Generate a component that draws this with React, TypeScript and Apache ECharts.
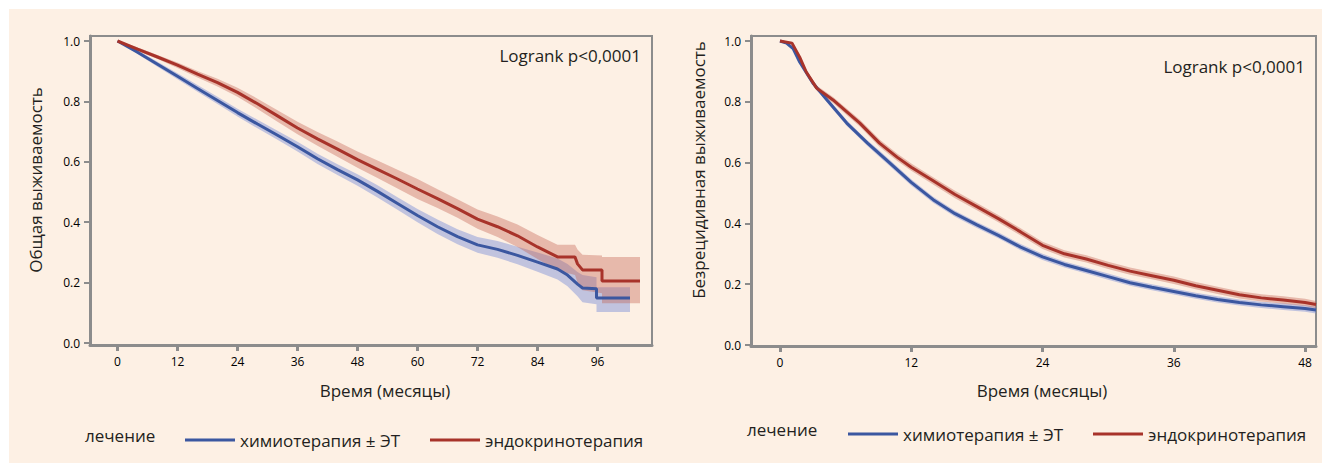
import React, { useEffect, useRef } from "react";
import * as echarts from "echarts";

// ---------- data ----------
const CHEMO = "химиотерапия ± ЭТ";
const ENDO = "эндокринотерапия";
const LEGEND_TITLE = "лечение";
const X_TITLE = "Время (месяцы)";
const Y_TITLE_OS = "Общая выживаемость";
const Y_TITLE_DFS = "Безрецидивная выживаемость";
const LOGRANK = "Logrank p<0,0001";

const osTicksX = [0, 12, 24, 36, 48, 60, 72, 84, 96];
const dfsTicksX = [0, 12, 24, 36, 48];
const ticksY = [0, 0.2, 0.4, 0.6, 0.8, 1.0];

// Overall survival — chemo (blue)
const osChemoT = [0, 4, 8, 12, 16, 20, 24, 28, 32, 36, 40, 44, 48, 52, 56, 60, 64, 68, 72, 76, 80, 84, 88, 90, 92, 93, 95.8, 95.8, 102.5];
const osChemoS = [1.0, 0.963, 0.923, 0.883, 0.843, 0.803, 0.763, 0.725, 0.688, 0.65, 0.61, 0.574, 0.54, 0.502, 0.462, 0.422, 0.385, 0.352, 0.325, 0.31, 0.29, 0.268, 0.245, 0.225, 0.195, 0.182, 0.18, 0.149, 0.149];
const osChemoLo = [1.0, 0.957, 0.915, 0.873, 0.832, 0.791, 0.75, 0.711, 0.673, 0.634, 0.593, 0.556, 0.521, 0.482, 0.441, 0.4, 0.361, 0.327, 0.299, 0.282, 0.261, 0.236, 0.21, 0.188, 0.155, 0.135, 0.128, 0.103, 0.103];
const osChemoHi = [1.0, 0.969, 0.931, 0.893, 0.854, 0.815, 0.776, 0.739, 0.703, 0.666, 0.627, 0.592, 0.559, 0.522, 0.483, 0.444, 0.409, 0.377, 0.351, 0.338, 0.319, 0.3, 0.28, 0.262, 0.235, 0.225, 0.218, 0.185, 0.185];

// Overall survival — endocrine (red)
const osEndoT = [0, 4, 8, 12, 16, 20, 24, 28, 32, 36, 40, 44, 48, 52, 56, 60, 64, 68, 72, 76, 80, 84, 88, 91.5, 92, 93, 96.9, 96.9, 104.5];
const osEndoS = [1.0, 0.973, 0.947, 0.92, 0.89, 0.862, 0.83, 0.792, 0.752, 0.712, 0.676, 0.642, 0.607, 0.575, 0.543, 0.51, 0.478, 0.445, 0.41, 0.385, 0.355, 0.318, 0.285, 0.285, 0.262, 0.242, 0.242, 0.205, 0.205];
const osEndoLo = [1.0, 0.967, 0.94, 0.911, 0.879, 0.849, 0.815, 0.775, 0.733, 0.691, 0.653, 0.617, 0.58, 0.546, 0.512, 0.477, 0.447, 0.415, 0.378, 0.351, 0.318, 0.278, 0.24, 0.225, 0.2, 0.175, 0.165, 0.132, 0.132];
const osEndoHi = [1.0, 0.979, 0.954, 0.929, 0.901, 0.875, 0.845, 0.809, 0.771, 0.733, 0.699, 0.667, 0.634, 0.604, 0.574, 0.543, 0.509, 0.476, 0.442, 0.419, 0.392, 0.358, 0.325, 0.325, 0.31, 0.292, 0.29, 0.285, 0.285];

// Disease-free survival — chemo (blue)
const dfsChemoT = [0, 0.6, 1.2, 1.8, 3.0, 4.3, 6.1, 8.0, 9.0, 10, 12, 14, 16, 18, 20, 22, 24, 26, 28, 30, 32, 34, 36, 38, 40, 42, 44, 46, 48, 49];
const dfsChemoS = [1.0, 0.993, 0.975, 0.931, 0.862, 0.806, 0.73, 0.664, 0.632, 0.6, 0.535, 0.478, 0.432, 0.395, 0.36, 0.322, 0.29, 0.265, 0.245, 0.225, 0.205, 0.19, 0.176, 0.162, 0.15, 0.14, 0.132, 0.126, 0.12, 0.115];
const dfsChemoCI = [0, 0.003, 0.005, 0.006, 0.007, 0.008, 0.009, 0.009, 0.01, 0.01, 0.01, 0.01, 0.01, 0.01, 0.01, 0.01, 0.01, 0.01, 0.01, 0.01, 0.01, 0.01, 0.01, 0.01, 0.01, 0.01, 0.01, 0.011, 0.011, 0.011];

// Disease-free survival — endocrine (red)
const dfsEndoT = [0, 1.1, 1.8, 2.4, 3.35, 4.85, 7.3, 9.1, 10.7, 12, 14, 16, 18, 20, 22, 24, 26, 28, 30, 32, 34, 36, 38, 40, 42, 44, 46, 48, 49];
const dfsEndoS = [1.0, 0.993, 0.947, 0.898, 0.845, 0.806, 0.73, 0.664, 0.618, 0.585, 0.54, 0.495, 0.455, 0.415, 0.372, 0.328, 0.3, 0.283, 0.262, 0.243, 0.228, 0.213, 0.195, 0.18, 0.165, 0.155, 0.148, 0.14, 0.133];
const dfsEndoCI = [0, 0.004, 0.006, 0.008, 0.009, 0.01, 0.011, 0.012, 0.012, 0.012, 0.012, 0.012, 0.012, 0.012, 0.012, 0.012, 0.012, 0.012, 0.012, 0.012, 0.012, 0.012, 0.012, 0.012, 0.012, 0.012, 0.012, 0.012, 0.012];

// ---------- styles ----------
const FONT = "Open Sans";
const BG = "#fdf0e4";
const AXIS = "#8c8c8c";
const TEXT = "#231f20";
const BLUE = "#3b57a0";
const RED = "#a8332a";
const BLUE_BAND = "rgba(120, 140, 215, 0.45)";
const RED_BAND = "rgba(195, 95, 80, 0.38)";

function pairs(t: number[], v: number[]) {
  return t.map((x, i) => [x, v[i]]);
}

function band(name: string, idx: number, t: number[], lo: number[], hi: number[], color: string) {
  return {
    type: "custom",
    name,
    xAxisIndex: idx,
    yAxisIndex: idx,
    silent: true,
    z: 1,
    data: t.map((x, i) => [x, lo[i], hi[i]]),
    encode: { x: 0, y: [1, 2] },
    renderItem: (params: any, api: any) => {
      if (params.dataIndex !== 0) return null;
      const up = t.map((x, i) => api.coord([x, hi[i]]));
      const dn = t.map((x, i) => api.coord([x, lo[i]])).reverse();
      return {
        type: "polygon",
        shape: { points: up.concat(dn) },
        style: { fill: color },
        silent: true,
      };
    },
  };
}

function line(name: string, idx: number, t: number[], v: number[], color: string) {
  return {
    type: "line",
    name,
    xAxisIndex: idx,
    yAxisIndex: idx,
    data: pairs(t, v),
    showSymbol: false,
    symbol: "none",
    lineStyle: { color, width: 3 },
    itemStyle: { color },
    z: 3,
  };
}

function xAxis(idx: number, min: number, max: number, ticks: number[]) {
  return {
    type: "value",
    gridIndex: idx,
    min,
    max,
    axisLine: { show: true, onZero: false, lineStyle: { color: AXIS, width: 3 } },
    axisTick: { show: true, customValues: ticks, length: 6, lineStyle: { color: AXIS, width: 3 } },
    axisLabel: { customValues: ticks, color: "#000", fontSize: 12, fontFamily: FONT, margin: 10 },
    splitLine: { show: false },
  };
}

function yAxis(idx: number, min: number, max: number) {
  return {
    type: "value",
    gridIndex: idx,
    min,
    max,
    axisLine: { show: true, onZero: false, lineStyle: { color: AXIS, width: 3 } },
    axisTick: { show: true, customValues: ticksY, length: 6, lineStyle: { color: AXIS, width: 2 } },
    axisLabel: {
      customValues: ticksY,
      color: "#000",
      fontSize: 12,
      fontFamily: FONT,
      margin: 10,
      formatter: (v: number) => v.toFixed(1),
    },
    splitLine: { show: false },
  };
}

function text(x: number, y: number, s: string, opts: any = {}) {
  return {
    type: "text",
    x,
    y,
    rotation: opts.rotation || 0,
    style: {
      text: s,
      fill: TEXT,
      font: `${opts.size || 17}px "${FONT}"`,
      align: opts.align || "center",
      verticalAlign: "middle",
    },
    silent: true,
  };
}

export default function App() {
  const ref = useRef<HTMLDivElement>(null);
  useEffect(() => {
    if (!ref.current) return;
    const chart = echarts.init(ref.current, null, { renderer: "svg" });
    const legendBase = {
      data: [CHEMO, ENDO],
      icon: "rect",
      itemWidth: 50,
      itemHeight: 3,
      itemGap: 30,
      orient: "horizontal",
      selectedMode: false,
      textStyle: { fontFamily: FONT, fontSize: 17, color: TEXT, lineHeight: 20 },
    };
    chart.setOption({
      animation: false,
      backgroundColor: BG,
      textStyle: { fontFamily: FONT },
      grid: [
        { left: 81, top: 27, width: 562, height: 309, show: true, borderColor: AXIS, borderWidth: 2, backgroundColor: "transparent" },
        { left: 742, top: 27, width: 565, height: 310, show: true, borderColor: AXIS, borderWidth: 2, backgroundColor: "transparent" },
      ],
      xAxis: [xAxis(0, -5.5, 106.9, osTicksX), xAxis(1, -2.65, 49, dfsTicksX)],
      yAxis: [yAxis(0, -2 / 302, 1 + 5 / 302), yAxis(1, -1 / 304, 1 + 5 / 304)],
      legend: [
        { ...legendBase, left: 171, top: 416 },
        { ...legendBase, left: 834, top: 410 },
      ],
      series: [
        band("ci-os-chemo", 0, osChemoT, osChemoLo, osChemoHi, BLUE_BAND),
        band("ci-os-endo", 0, osEndoT, osEndoLo, osEndoHi, RED_BAND),
        line(CHEMO, 0, osChemoT, osChemoS, BLUE),
        line(ENDO, 0, osEndoT, osEndoS, RED),
        band("ci-dfs-chemo", 1, dfsChemoT, dfsChemoS.map((v, i) => v - dfsChemoCI[i]), dfsChemoS.map((v, i) => v + dfsChemoCI[i]), BLUE_BAND),
        band("ci-dfs-endo", 1, dfsEndoT, dfsEndoS.map((v, i) => v - dfsEndoCI[i]), dfsEndoS.map((v, i) => v + dfsEndoCI[i]), RED_BAND),
        line(CHEMO, 1, dfsChemoT, dfsChemoS, BLUE),
        line(ENDO, 1, dfsEndoT, dfsEndoS, RED),
      ],
      graphic: [
        text(26, 171, Y_TITLE_OS, { rotation: Math.PI / 2 }),
        text(689, 161, Y_TITLE_DFS, { rotation: Math.PI / 2 }),
        text(376, 381, X_TITLE),
        text(1033, 381, X_TITLE),
        text(632, 46, LOGRANK, { align: "right" }),
        text(1296, 57, LOGRANK, { align: "right" }),
        text(76, 426, LEGEND_TITLE, { align: "left" }),
        text(738, 420, LEGEND_TITLE, { align: "left" }),
      ],
    });
    return () => chart.dispose();
  }, []);
  return (
    <div
      ref={ref}
      style={{ position: "absolute", left: 9, top: 9, width: 1313, height: 454, background: BG }}
    />
  );
}
